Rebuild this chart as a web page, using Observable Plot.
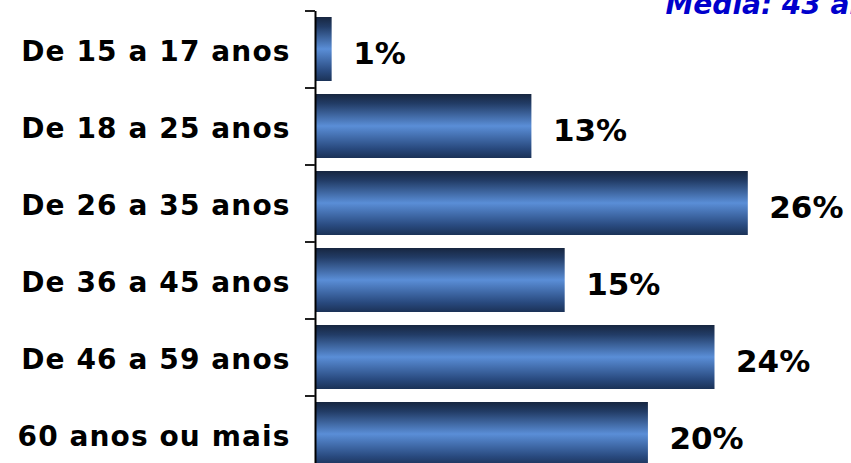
<!DOCTYPE html>
<html><head><meta charset="utf-8">
<script src="https://cdn.jsdelivr.net/npm/d3@7"></script>
<script src="https://cdn.jsdelivr.net/npm/@observablehq/plot@0.6"></script>
<style>
body{margin:0;background:#fff;overflow:hidden}
#chart{width:851px;height:463px;overflow:hidden}
#chart g[aria-label="y-axis tick label"] text{letter-spacing:1.1px}
</style>
</head><body><div id="chart"></div>
<script>
const categories = ["De 15 a 17 anos", "De 18 a 25 anos", "De 26 a 35 anos", "De 36 a 45 anos", "De 46 a 59 anos", "60 anos ou mais"];
const values = [1, 13, 26, 15, 24, 20];
const valueLabels = ["1%", "13%", "26%", "15%", "24%", "20%"];
const title = "Média: 43 anos";

const data = categories.map((c, i) => ({category: c, value: values[i], label: valueLabels[i]}));
const font = "'DejaVu Sans', Verdana, sans-serif";
const NS = "http://www.w3.org/2000/svg";

function gradientDefs() {
  const defs = document.createElementNS(NS, "defs");
  const lg = document.createElementNS(NS, "linearGradient");
  lg.setAttribute("id", "barGrad");
  lg.setAttribute("x1", "0"); lg.setAttribute("y1", "0");
  lg.setAttribute("x2", "0"); lg.setAttribute("y2", "1");
  [[0, "#172640"], [0.15, "#223c66"], [0.5, "#5a8ed7"], [0.85, "#294a7f"], [1, "#1b3257"]].forEach(([o, c]) => {
    const s = document.createElementNS(NS, "stop");
    s.setAttribute("offset", o);
    s.setAttribute("stop-color", c);
    lg.appendChild(s);
  });
  defs.appendChild(lg);
  return defs;
}

function boundaryTicks(index, scales) {
  const y = scales.y, x0 = scales.x(0);
  const g = document.createElementNS(NS, "g");
  for (const c of categories) {
    const yy = y(c);
    const l = document.createElementNS(NS, "line");
    l.setAttribute("x1", x0 - 10); l.setAttribute("x2", x0);
    l.setAttribute("y1", yy); l.setAttribute("y2", yy);
    l.setAttribute("stroke", "#222");
    l.setAttribute("stroke-width", 2);
    g.appendChild(l);
  }
  return g;
}

const plot = Plot.plot({
  width: 851,
  height: 463,
  marginTop: 11,
  marginBottom: -10,
  marginLeft: 315,
  marginRight: 0,
  style: {fontFamily: font, background: "#fff", overflow: "hidden"},
  x: {domain: [0, 32.2], axis: null},
  y: {domain: categories, padding: 0, label: null, axis: null},
  marks: [
    gradientDefs,
    Plot.barX(data, {x: "value", y: "category", fill: "url(#barGrad)", insetTop: 6, insetBottom: 7}),
    Plot.text(data, {x: "value", y: "category", text: "label", textAnchor: "start", dx: 21, dy: 4, fontSize: 31, fontWeight: "bold", fill: "#000"}),
    Plot.axisY({tickSize: 0, tickPadding: 25, dy: 2, fontSize: 28, fontWeight: "bold", color: "#000", label: null}),
    Plot.ruleX([0], {stroke: "#000", strokeWidth: 2}),
    boundaryTicks,
    Plot.text([title], {text: d => d, frameAnchor: "top-left", dx: 350, dy: 2, lineAnchor: "bottom", textAnchor: "start", fontSize: 28, fontWeight: "bold", fontStyle: "italic", fill: "#0000cc"})
  ]
});
document.getElementById("chart").appendChild(plot);
</script>
</body></html>
